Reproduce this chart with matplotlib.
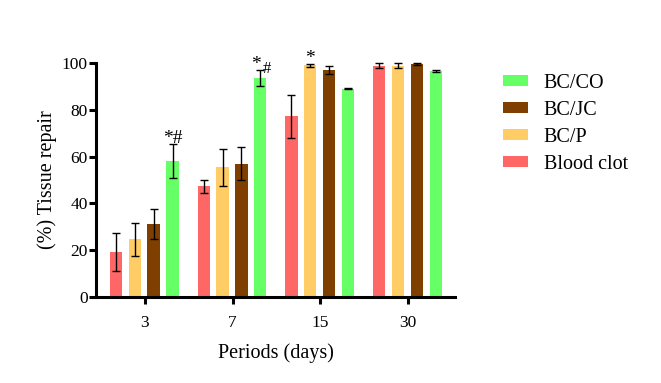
import matplotlib
matplotlib.use("Agg")
import matplotlib.pyplot as plt
import numpy as np
from matplotlib.patches import Patch

plt.rcParams['font.family'] = ['Liberation Serif', 'DejaVu Serif']

periods = ["3", "7", "15", "30"]
series = ["Blood clot", "BC/P", "BC/JC", "BC/CO"]
colors = ["#FF6666", "#FFCC66", "#7F3F00", "#66FF66"]
blood_clot = [19.3, 47.3, 77.3, 98.9]
blood_clot_err = [8.1, 2.8, 9.2, 0.9]
bc_p = [24.6, 55.4, 99.0, 98.9]
bc_p_err = [7.1, 7.8, 0.5, 1.0]
bc_jc = [31.3, 57.0, 97.0, 99.7]
bc_jc_err = [6.3, 7.2, 1.6, 0.4]
bc_co = [58.1, 93.6, 89.0, 96.6]
bc_co_err = [7.4, 3.3, 0.2, 0.4]

values = [blood_clot, bc_p, bc_jc, bc_co]
errors = [blood_clot_err, bc_p_err, bc_jc_err, bc_co_err]

fig = plt.figure(figsize=(6.61, 3.83), dpi=100)
ax = fig.add_axes([0.1452, 0.2245, 0.5432, 0.611])

x = np.arange(len(periods))
offsets = [-0.33, -0.115, 0.1, 0.315]
width = 0.14
for vals, errs, col, off in zip(values, errors, colors, offsets):
    ax.bar(x + off, vals, width, color=col, zorder=2)
    ax.errorbar(x + off, vals, yerr=errs, fmt='none', ecolor='black',
                elinewidth=1.0, capsize=3, capthick=1.0, zorder=3, clip_on=False)

# significance marks
ax.text(x[0] + offsets[3], 64.3, "*#", ha='center', va='bottom', fontsize=14)
ax.text(x[1] + offsets[3] - 0.045, 95.8, "*", ha='center', va='bottom', fontsize=14)
ax.text(x[1] + offsets[3] + 0.07, 94.0, "#", ha='center', va='bottom', fontsize=12)
ax.text(x[2] + offsets[1], 98.3, "*", ha='center', va='bottom', fontsize=14)

ax.set_xlim(-0.557, 3.534)
ax.set_ylim(0, 100)
ax.set_xticks(x)
ax.set_xticklabels(periods, fontsize=12.5)
ax.set_yticks([0, 20, 40, 60, 80, 100])
ax.tick_params(axis='y', labelsize=12.5, width=2.2, length=5, pad=1)
ax.tick_params(axis='x', width=2.2, length=5, pad=8)
for s in ['top', 'right']:
    ax.spines[s].set_visible(False)
for s in ['left', 'bottom']:
    ax.spines[s].set_linewidth(2.2)

ax.set_ylabel("(%) Tissue repair", fontsize=14.5, labelpad=3)
ax.set_xlabel("Periods (days)", fontsize=14.5, labelpad=9)

handles = [Patch(facecolor=colors[i], label=series[i]) for i in [3, 2, 1, 0]]
fig.legend(handles=handles, loc='upper left', bbox_to_anchor=(0.734, 0.855),
           frameon=False, fontsize=14.5, handlelength=1.25, handleheight=0.45,
           labelspacing=0.4, handletextpad=0.75)

fig.savefig("out.png", dpi=100)
